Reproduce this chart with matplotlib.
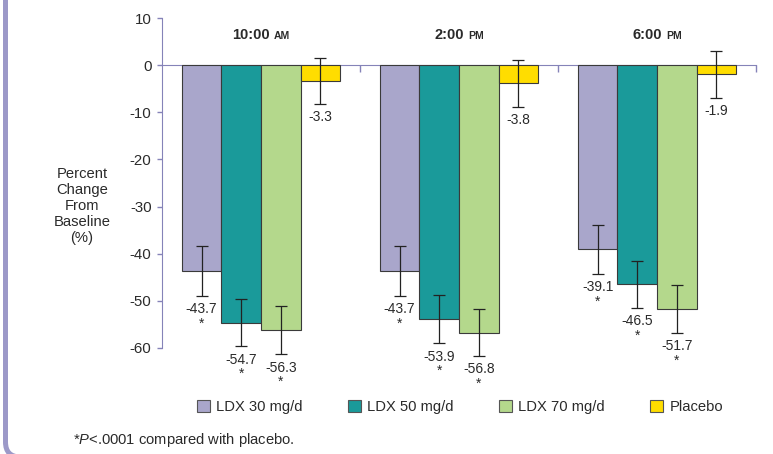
import matplotlib
matplotlib.use("Agg")
import matplotlib.pyplot as plt
import numpy as np
from matplotlib.patches import Patch, FancyBboxPatch
from matplotlib.offsetbox import TextArea, HPacker, AnnotationBbox

plt.rcParams['font.family'] = ['Liberation Sans', 'DejaVu Sans']
plt.rcParams['mathtext.fontset'] = 'custom'
plt.rcParams['mathtext.it'] = 'Liberation Sans:italic'
plt.rcParams['mathtext.rm'] = 'Liberation Sans'

# ---- data ----
times = ["10:00", "2:00", "6:00"]
meridiem = ["AM", "PM", "PM"]
series = ["LDX 30 mg/d", "LDX 50 mg/d", "LDX 70 mg/d", "Placebo"]
ldx30 = [-43.7, -43.7, -39.1]
ldx50 = [-54.7, -53.9, -46.5]
ldx70 = [-56.3, -56.8, -51.7]
placebo = [-3.3, -3.8, -1.9]
err30 = [5.35, 5.3, 5.2]
err50 = [5.0, 5.2, 5.0]
err70 = [5.1, 5.0, 5.1]
errpl = [4.9, 5.0, 5.0]
significant = [True, True, True, False]
yticks = [10, 0, -10, -20, -30, -40, -50, -60]

values = [ldx30, ldx50, ldx70, placebo]
errors = [err30, err50, err70, errpl]
colors = ["#A9A6CB", "#1A9A9A", "#B4D88C", "#FFDD00"]
axis_col = "#8583B8"
text_col = "#2a2a2a"

W, H = 773, 454
fig = plt.figure(figsize=(W / 100, H / 100), dpi=100)

# frame border (left + rounded bottom corner)
frame = FancyBboxPatch((5.5, -3), 1000, 600, boxstyle="round,pad=0,rounding_size=15",
                       transform=None, facecolor="none", edgecolor="#9C99C8",
                       linewidth=3.6, zorder=0)
fig.patches.append(frame)

ax = fig.add_axes([162 / W, 1 - 347.7 / H, (756 - 162) / W, (347.7 - 18.3) / H])
ax.set_xlim(0, 3)
ax.set_ylim(-60, 10)
ax.patch.set_alpha(0)

centers = np.arange(len(times)) + 0.5
bw = 0.2
for i, (vals, errs, col) in enumerate(zip(values, errors, colors)):
    x = centers + (i - 1.5) * bw
    ax.bar(x, vals, width=bw, color=col, edgecolor="#3a3a3a", linewidth=0.8,
           zorder=2, clip_on=False)
    ax.errorbar(x, vals, yerr=errs, fmt="none", ecolor="#222222", elinewidth=0.9,
                capsize=4.3, capthick=0.9, zorder=3, clip_on=False)
    for xi, v, e in zip(x, vals, errs):
        lab = f"{v:.1f}" + ("\n*" if significant[i] else "")
        ax.annotate(lab, xy=(xi, v - e), xytext=(0, -4.5), textcoords="offset points",
                    ha="center", va="top", fontsize=10, color=text_col,
                    linespacing=1.05, annotation_clip=False)

# group titles
for c, t, m in zip(centers, times, meridiem):
    box = HPacker(children=[TextArea(t, textprops=dict(fontsize=10.5, fontweight="bold", color=text_col)),
                            TextArea(m, textprops=dict(fontsize=7.5, fontweight="bold", color=text_col))],
                  align="baseline", pad=0, sep=3)
    ab = AnnotationBbox(box, (c, 6.45), frameon=False, box_alignment=(0.5, 0.5),
                        xycoords="data")
    ax.add_artist(ab)

# axes styling
for s in ["top", "right"]:
    ax.spines[s].set_visible(False)
ax.spines["left"].set_color(axis_col)
ax.spines["left"].set_bounds(-60, 10)
ax.spines["bottom"].set_position(("data", 0))
ax.spines["bottom"].set_color(axis_col)
ax.spines["bottom"].set_zorder(1)
ax.set_xticks([1, 2, 3])
ax.set_xticklabels([])
ax.tick_params(axis="x", direction="out", length=5, color=axis_col, width=1)
ax.set_yticks(yticks)
ax.set_yticklabels([str(t) for t in yticks])
ax.tick_params(axis="y", direction="out", length=3.5, color=axis_col, width=1,
               labelsize=10.8, labelcolor=text_col, pad=4)

fig.text(82 / W, 1 - 206 / H, "Percent\nChange\nFrom\nBaseline\n(%)", ha="center",
         va="center", fontsize=10.6, color=text_col, linespacing=1.17)

handles = [Patch(facecolor=c, edgecolor="#555555", linewidth=0.8) for c in colors]
fig.legend(handles, series, loc="center", bbox_to_anchor=(460 / W, 1 - 407 / H),
           ncol=4, frameon=False, fontsize=10.6, handlelength=0.85, handleheight=0.85,
           handletextpad=0.45, columnspacing=3.08, labelcolor=text_col,
           borderpad=0, borderaxespad=0)

fig.text(73 / W, 1 - 440 / H, "*$P$<.0001 compared with placebo.", ha="left",
         va="center", fontsize=10.6, color=text_col)

fig.savefig("out.png", dpi=100)
